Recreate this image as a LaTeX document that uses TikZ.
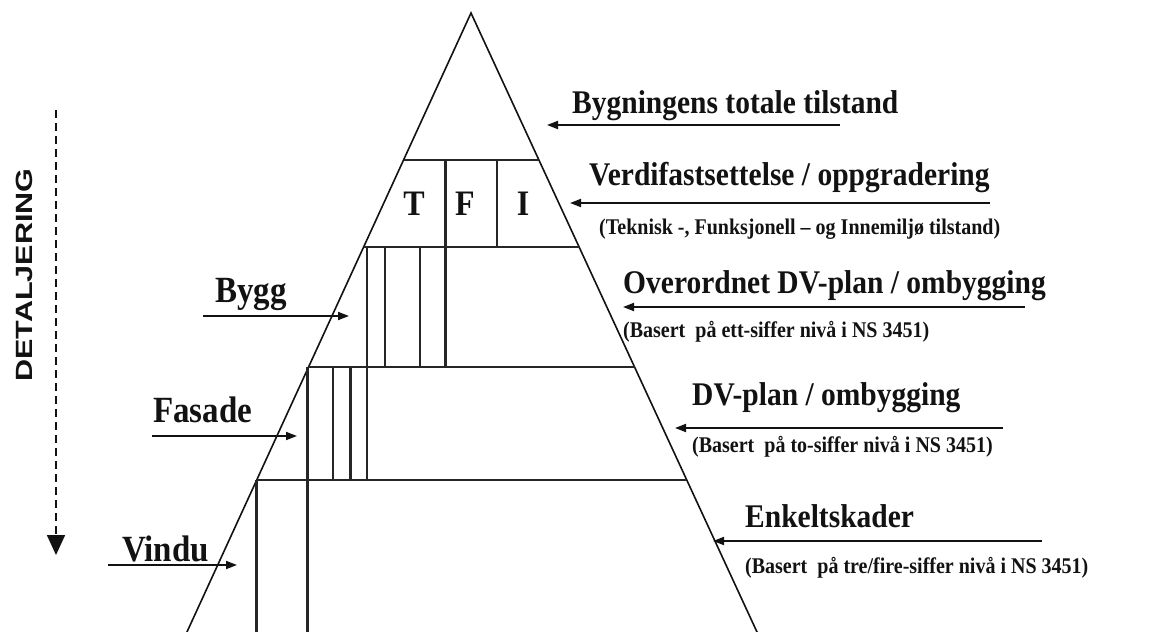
\documentclass[tikz,border=0pt]{standalone}
\usepackage{fontspec}
\setmainfont{Liberation Serif}
\newfontfamily\axisfont{Liberation Sans}
\usetikzlibrary{arrows.meta}
\definecolor{ink}{HTML}{121212}
\definecolor{cellline}{HTML}{262626}
% slight vertical stretch of the serif lettering
\newcommand\tallish[1]{\scalebox{1}[1.12]{#1}}
\tikzset{
  level/.style={inner sep=0pt, anchor=base west, text=ink,
                font=\bfseries\fontsize{29.5}{30}\selectfont},
  remark/.style={inner sep=0pt, anchor=base west, text=ink,
                 font=\bfseries\fontsize{20}{22}\selectfont},
  part/.style={inner sep=0pt, anchor=base west, text=ink,
               font=\bfseries\fontsize{33}{34}\selectfont},
  letter/.style={inner sep=0pt, anchor=base, text=ink,
                 font=\bfseries\fontsize{32}{33}\selectfont},
  pointer/.style={draw=ink, line width=1.8pt,
                  -{Triangle[length=11pt,width=8pt]}},
  slope/.style={draw=ink, line width=1.6pt},
  cell/.style={draw=cellline, line width=2.1pt},
}
\begin{document}
\begin{tikzpicture}[x=1pt,y=-1pt]
\useasboundingbox (0,0) rectangle (1173,632);
\clip (0,0) rectangle (1173,632);

% pyramid outline (base lies below the visible area)
\coordinate (apex) at (471,13);
\draw[slope] (178.7,650) -- (apex) -- (765.3,650);

% level dividers
\draw[cell] (403.6,160) -- (538.9,160);
\draw[cell] (363.6,247) -- (579.1,247);
\draw[cell] (308.6,367) -- (634.5,367);
\draw[cell] (256.7,480) -- (686.8,480);

% columns of the T/F/I row
\draw[cell] (445.5,160) -- (445.5,367);
\draw[cell] (497,160) -- (497,247);
% building row
\draw[cell] (367,247) -- (367,480);
\draw[cell] (385,247) -- (385,367);
\draw[cell] (420,247) -- (420,367);
% facade row
\draw[cell] (333,367) -- (333,480);
\draw[cell] (350.5,367) -- (350.5,480);
\draw[cell] (307.5,367) -- (307.5,640);
% window row
\draw[cell] (256.5,480) -- (256.5,640);

% letters in the second tier
\node[letter] (t) at (414,215) {\tallish{T}};
\node[letter] (f) at (465,215) {\tallish{F}};
\node[letter] (i) at (523,215) {\tallish{I}};

% right-hand level descriptions
\node[level] (tot) at (572,113) {\tallish{Bygningens totale tilstand}};
\node[level] (verdi) at (589,185) {\tallish{Verdifastsettelse / oppgradering}};
\node[remark] (tfi) at (599,234) {\tallish{(Teknisk -, Funksjonell – og Innemiljø tilstand)}};
\node[level] (over) at (623,293) {\tallish{Overordnet DV-plan / ombygging}};
\node[remark] (n1) at (623,337) {\tallish{(Basert\ \ på ett-siffer nivå i NS 3451)}};
\node[level] (dv) at (692,405) {\tallish{DV-plan / ombygging}};
\node[remark] (n2) at (692,452) {\tallish{(Basert\ \ på to-siffer nivå i NS 3451)}};
\node[level] (enk) at (745,527) {\tallish{Enkeltskader}};
\node[remark] (n3) at (745,573) {\tallish{(Basert\ \ på tre/fire-siffer nivå i NS 3451)}};

% left-hand element labels
\node[part] (bygg) at (215,302) {\tallish{Bygg}};
\node[part] (fasade) at (153,422) {\tallish{Fasade}};
\node[part] (vindu) at (122,561) {\tallish{Vindu}};

% arrow end points
\coordinate (a1s) at (840,125);  \coordinate (a1e) at (547,125);
\coordinate (a2s) at (990,203);  \coordinate (a2e) at (570,203);
\coordinate (a3s) at (1025,307); \coordinate (a3e) at (623,307);
\coordinate (a4s) at (1003,428); \coordinate (a4e) at (675,428);
\coordinate (a5s) at (1042,541); \coordinate (a5e) at (713,541);
\coordinate (b1s) at (203,316);  \coordinate (b1e) at (349,316);
\coordinate (b2s) at (152,436);  \coordinate (b2e) at (297,436);
\coordinate (b3s) at (108,565);  \coordinate (b3e) at (237,565);

\draw[pointer] (a1s) -- (a1e);
\draw[pointer] (a2s) -- (a2e);
\draw[pointer] (a3s) -- (a3e);
\draw[pointer] (a4s) -- (a4e);
\draw[pointer] (a5s) -- (a5e);
\draw[pointer] (b1s) -- (b1e);
\draw[pointer] (b2s) -- (b2e);
\draw[pointer] (b3s) -- (b3e);

% detailing axis
\coordinate (dtop) at (56,110);
\coordinate (dbot) at (56,555);
\draw[ink, line width=1.7pt, dash pattern=on 8pt off 5pt,
      -{Triangle[length=20pt,width=18pt]}] (dtop) -- (dbot);
\node[rotate=90, inner sep=0pt, text=ink,
      font=\axisfont\bfseries\fontsize{23.5}{24}\selectfont] (detalj) at (24,275)
      {\scalebox{1.3}[1]{DETALJERING}};
\end{tikzpicture}
\end{document}
